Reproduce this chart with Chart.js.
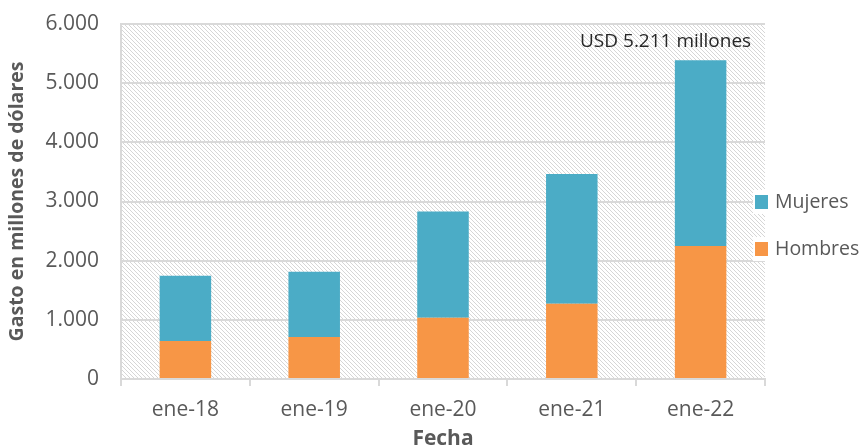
<!DOCTYPE html>
<html>
<head>
<meta charset="utf-8">
<script src="https://cdn.jsdelivr.net/npm/chart.js@4.4.1/dist/chart.umd.min.js"></script>
<style>
  html, body { margin: 0; padding: 0; background: #fff; }
  #wrap { width: 861px; height: 446px; }
</style>
</head>
<body>
<div id="wrap"><canvas id="myChart" width="861" height="446"></canvas></div>
<script>
const labels = ['ene-18', 'ene-19', 'ene-20', 'ene-21', 'ene-22'];
const hombres = [642, 709, 1036, 1272, 2247];
const mujeres = [1103, 1104, 1797, 2191, 3142];
const yTicks = [0, 1000, 2000, 3000, 4000, 5000, 6000];
const note = 'USD 5.211 millones';

const FONT = '"Open Sans", sans-serif';
const ctx = document.getElementById('myChart').getContext('2d');

// Hatched plot background (\\\ lines)
function makeHatch() {
    const c = document.createElement('canvas');
    c.width = 4; c.height = 4;
    const p = c.getContext('2d');
    p.fillStyle = '#ffffff';
    p.fillRect(0, 0, 4, 4);
    p.fillStyle = '#d6d6d6';
    for (let i = 0; i < 4; i++) p.fillRect(i, i, 1, 1);
    return ctx.createPattern(c, 'repeat');
}
const hatch = makeHatch();

const hatchBg = {
    id: 'hatchBg',
    beforeDraw(chart) {
        const a = chart.chartArea;
        const g = chart.ctx;
        g.save();
        g.fillStyle = hatch;
        g.fillRect(a.left, a.top, a.right - a.left, a.bottom - a.top);
        g.restore();
    }
};

// Text note above the last bar + legend on the right
const extras = {
    id: 'extras',
    afterDatasetsDraw(chart) {
        const g = chart.ctx;
        const a = chart.chartArea;
        const x = chart.scales.x.getPixelForValue(labels.length - 1);
        const total = hombres[4] + mujeres[4];
        const y = chart.scales.y.getPixelForValue(total);
        g.save();
        g.font = '19px ' + FONT;
        g.fillStyle = '#262626';
        g.textAlign = 'center';
        g.textBaseline = 'alphabetic';
        g.fillText(note, x - 35, y - 13);

        // legend, Mujeres first
        const items = chart.data.datasets.slice().reverse();
        g.font = '19.5px ' + FONT;
        g.textAlign = 'left';
        g.textBaseline = 'middle';
        items.forEach((ds, i) => {
            const cy = 202 + i * 47;
            g.fillStyle = '#ffffff';
            g.fillRect(a.right - 12, cy - 12, 14, 24);
            g.fillStyle = ds.backgroundColor;
            g.fillRect(a.right - 10, cy - 7, 13, 14);
            g.fillStyle = '#595959';
            g.fillText(ds.label, a.right + 10, cy);
        });
        g.restore();
    }
};

new Chart(ctx, {
    type: 'bar',
    data: {
        labels: labels,
        datasets: [
            { label: 'Hombres', data: hombres, backgroundColor: '#F79646' },
            { label: 'Mujeres', data: mujeres, backgroundColor: '#4BACC6' }
        ]
    },
    options: {
        responsive: false,
        animation: false,
        layout: { padding: { top: 24, left: 6, right: 96, bottom: 0 } },
        datasets: { bar: { barPercentage: 0.4, categoryPercentage: 1 } },
        plugins: {
            legend: { display: false },
            tooltip: { enabled: false }
        },
        scales: {
            x: {
                stacked: true,
                grid: {
                    drawOnChartArea: false,
                    drawTicks: true,
                    tickLength: 7,
                    color: '#d9d9d9',
                    lineWidth: 2
                },
                border: { color: '#d9d9d9', width: 2 },
                ticks: {
                    font: { family: FONT, size: 21 },
                    color: '#595959',
                    padding: 11
                },
                title: {
                    display: true,
                    text: 'Fecha',
                    font: { family: FONT, size: 21, weight: 'bold' },
                    color: '#595959',
                    padding: { top: 0, bottom: -6 }
                },
                afterFit(s) { s.height = 67; s.paddingLeft = 0; s.paddingRight = 0; }
            },
            y: {
                stacked: true,
                min: 0,
                max: 6000,
                afterBuildTicks(s) { s.ticks = yTicks.map(v => ({ value: v })); },
                grid: { color: '#d9d9d9', lineWidth: 2, drawTicks: false },
                border: { color: '#d9d9d9', width: 2 },
                ticks: {
                    font: { family: FONT, size: 21 },
                    color: '#595959',
                    padding: 22,
                    callback: v => v.toLocaleString('de-DE')
                },
                title: {
                    display: true,
                    text: 'Gasto en millones de dólares',
                    font: { family: FONT, size: 19.5, weight: 'bold' },
                    color: '#595959',
                    padding: { top: 0, bottom: 2 }
                },
                afterFit(s) { s.width = 115; s.paddingTop = 0; s.paddingBottom = 0; }
            }
        }
    },
    plugins: [hatchBg, extras]
});
</script>
</body>
</html>
